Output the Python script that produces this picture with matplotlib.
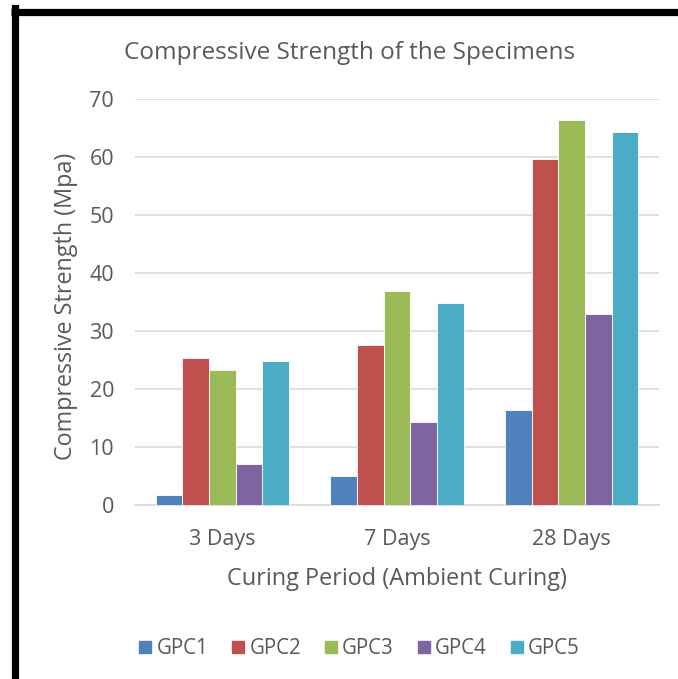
import numpy as np
import matplotlib.pyplot as plt
from matplotlib.lines import Line2D

periods = ['3 Days', '7 Days', '28 Days']
series = ['GPC1', 'GPC2', 'GPC3', 'GPC4', 'GPC5']
gpc1 = [1.7, 5.0, 16.3]
gpc2 = [25.3, 27.5, 59.6]
gpc3 = [23.2, 36.9, 66.3]
gpc4 = [7.0, 14.3, 33.0]
gpc5 = [24.9, 34.8, 64.3]
colors = ['#4F81BD', '#C0504D', '#9BBB59', '#8064A2', '#4BACC6']

plt.rcParams['font.family'] = ['Open Sans', 'DejaVu Sans']
txt = '#595959'

fig = plt.figure(figsize=(6.78, 6.79), dpi=100)
ax = fig.add_axes([0.1991, 0.2563, 0.7729, 0.5979])

x = np.arange(len(periods))
w = 0.153
for i, vals in enumerate([gpc1, gpc2, gpc3, gpc4, gpc5]):
    ax.bar(x + (i - 2) * w, vals, w, color=colors[i], edgecolor='white',
           linewidth=0.6, label=series[i], zorder=3)

ax.set_xlim(-0.5, 2.5)
ax.set_ylim(0, 70)
ax.set_yticks(range(0, 71, 10))
ax.set_xticks(x)
ax.set_xticklabels(periods)
ax.grid(axis='y', color='#D9D9D9', linewidth=1.2, zorder=0)
for s in ['top', 'right', 'left']:
    ax.spines[s].set_visible(False)
ax.spines['bottom'].set_color('#D9D9D9')
ax.spines['bottom'].set_linewidth(1.2)
ax.tick_params(length=0, labelsize=15.5, labelcolor=txt)
ax.tick_params(axis='x', pad=17)
ax.tick_params(axis='y', pad=15)

ax.set_ylabel('Compressive Strength (Mpa)', fontsize=16.8, color=txt)
ax.yaxis.set_label_coords(-0.108, 0.49)
ax.set_xlabel('Curing Period (Ambient Curing)', fontsize=16.9, color=txt)
ax.xaxis.set_label_coords(0.5, -0.152)
fig.text(0.516, 0.922, 'Compressive Strength of the Specimens', fontsize=17.5,
         color=txt, ha='center', va='center')

handles = [Line2D([], [], marker='s', linestyle='', markersize=9,
                  markerfacecolor=c, markeredgecolor=c) for c in colors]
fig.legend(handles, series, loc='center', bbox_to_anchor=(0.527, 0.045), ncol=5,
           frameon=False, fontsize=14.8, labelcolor=txt, handletextpad=0.05,
           columnspacing=0.95, handlelength=1.0)

# thick black frame on left and top edges
fig.add_artist(Line2D([14.5 / 678, 14.5 / 678], [0, 1 - 8 / 679], color='black',
                      linewidth=5.2, transform=fig.transFigure, solid_capstyle='projecting'))
fig.add_artist(Line2D([11 / 678, 1], [1 - 11.5 / 679, 1 - 11.5 / 679], color='black',
                      linewidth=5.2, transform=fig.transFigure, solid_capstyle='butt'))

fig.savefig('out.png', dpi=100)
